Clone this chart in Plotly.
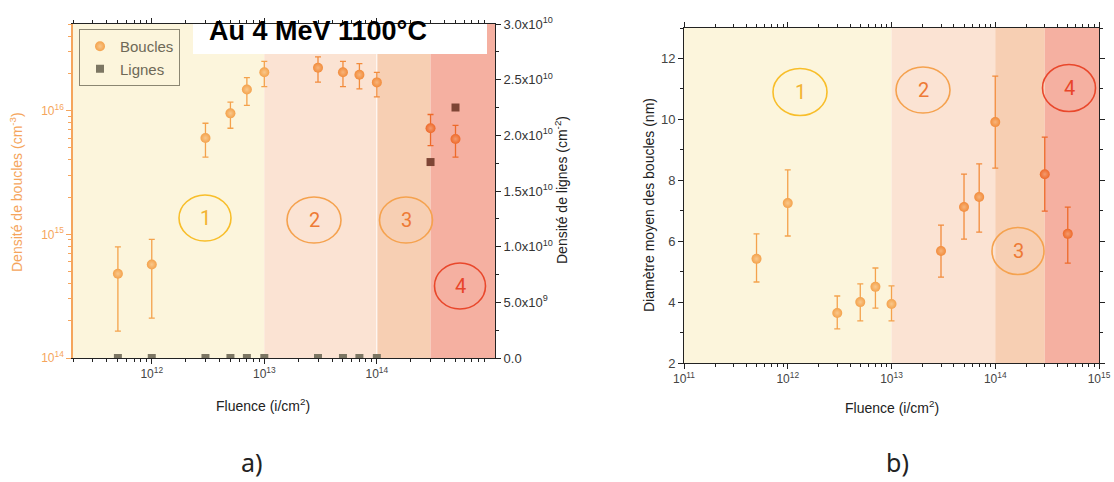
import plotly.graph_objects as go

W, H = 1114, 482

# ---------------- Panel a) data ----------------
fluence_a = [5e11, 1e12, 3e12, 5e12, 7e12, 1e13, 3e13, 5e13, 7e13, 1e14, 3e14, 5e14]
boucles_density = [4.8e14, 5.7e14, 6.0e15, 9.5e15, 1.48e16, 2.04e16, 2.22e16, 2.04e16, 1.95e16, 1.69e16, 7.2e15, 5.9e15]
boucles_high = [7.9e14, 9.1e14, 7.9e15, 1.17e16, 1.85e16, 2.5e16, 2.72e16, 2.5e16, 2.4e16, 2.04e16, 9.3e15, 7.6e15]
boucles_low = [1.65e14, 2.1e14, 4.2e15, 7.2e15, 1.1e16, 1.56e16, 1.7e16, 1.56e16, 1.5e16, 1.29e16, 5.2e15, 4.2e15]

fluence_lignes = [5e11, 1e12, 3e12, 5e12, 7e12, 1e13, 3e13, 5e13, 7e13, 1e14, 3e14, 5e14]
lignes_density = [0, 0, 0, 0, 0, 0, 0, 0, 0, 0, 1.76e10, 2.25e10]

# ---------------- Panel b) data ----------------
fluence_b = [5e11, 1e12, 3e12, 5e12, 7e12, 1e13, 3e13, 5e13, 7e13, 1e14, 3e14, 5e14]
diametre = [5.42, 7.25, 3.64, 4.0, 4.5, 3.94, 5.68, 7.12, 7.45, 9.91, 8.2, 6.24]
diametre_high = [6.24, 8.34, 4.2, 4.6, 5.12, 4.53, 6.53, 8.2, 8.54, 11.42, 9.42, 7.12]
diametre_low = [4.66, 6.17, 3.12, 3.38, 3.8, 3.38, 4.82, 6.07, 6.3, 8.4, 6.99, 5.28]

# zone limits (fluence) and labels
zone_edges = [1e13, 1e14, 3e14]
zone_labels = ["1", "2", "3", "4"]

ZONE_COLORS = ["#FCF5DC", "#FBE3D3", "#F7CFB3", "#F5B0A1"]
CIRCLE_COLORS = ["#F8BE2A", "#F5A24E", "#F5A24E", "#E9472B"]
TEXT_COLORS = ["#F2B332", "#EE7A35", "#EE7A35", "#E8452A"]
PT_LIGHT, PT_MID, PT_DARK = "#F4A24C", "#F28C3C", "#EE6A2A"
ORANGE_AX = "#F5A55C"
FONT = "Liberation Sans"


def px(x):
    return x / W


def py(y):
    return 1 - y / H


def group_of(f):
    if f <= 1e13:
        return 0
    if f <= 1e14:
        return 1
    return 2


GROUP_COLORS = [PT_LIGHT, PT_MID, PT_DARK]
GROUP_CENTERS = ["#F9C88C", "#F7B47A", "#F49A6E"]

fig = go.Figure()


def add_points(xs, ys, hi, lo, xaxis, yaxis, legend_first):
    for g in range(3):
        idx = [i for i, f in enumerate(xs) if group_of(f) == g]
        if not idx:
            continue
        fig.add_trace(go.Scatter(
            x=[xs[i] for i in idx], y=[ys[i] for i in idx],
            mode="markers",
            name="Boucles",
            showlegend=(legend_first and g == 0),
            xaxis=xaxis, yaxis=yaxis,
            marker=dict(size=10, color=GROUP_COLORS[g], line=dict(width=0),
                        gradient=dict(type="radial", color=GROUP_CENTERS[g])),
            error_y=dict(type="data", symmetric=False,
                         array=[hi[i] - ys[i] for i in idx],
                         arrayminus=[ys[i] - lo[i] for i in idx],
                         color=GROUP_COLORS[g], thickness=1.3, width=3),
        ))


add_points(fluence_a, boucles_density, boucles_high, boucles_low, "x", "y", True)

fig.add_trace(go.Scatter(
    x=fluence_lignes, y=lignes_density, mode="markers", name="Lignes",
    xaxis="x", yaxis="y2",
    marker=dict(symbol="square", size=8,
                color=["#7C7663" if v == 0 else "#7E4535" for v in lignes_density],
                line=dict(width=0)),
))

add_points(fluence_b, diametre, diametre_high, diametre_low, "x2", "y3", False)

# ---------------- shapes ----------------
shapes = []
xa_rng = (11.3, 15.05)
xb_rng = (11.0, 15.0)
for (xr, yref_dom, xref) in [(xa_rng, "y domain", "x"), (xb_rng, "y3 domain", "x2")]:
    bounds = [10 ** xr[0]] + zone_edges + [10 ** xr[1]]
    for k in range(4):
        shapes.append(dict(type="rect", xref=xref, yref=yref_dom,
                           x0=bounds[k], x1=bounds[k + 1], y0=0, y1=1,
                           fillcolor=ZONE_COLORS[k], line=dict(width=0), layer="below"))

# white separator on panel a
shapes.append(dict(type="line", xref="x", yref="y domain", x0=1e14, x1=1e14, y0=0, y1=0.91,
                   line=dict(color="white", width=1), layer="below"))
# white title box on panel a
shapes.append(dict(type="rect", xref="x domain", yref="y domain",
                   x0=(193 - 73) / 422, x1=(487 - 73) / 422, y0=(358 - 54) / 334, y1=1,
                   fillcolor="white", line=dict(width=0), layer="below"))

annotations = []


def circled(cx, cy, w, h, k):
    shapes.append(dict(type="circle", xref="paper", yref="paper",
                       x0=px(cx - w / 2), x1=px(cx + w / 2), y0=py(cy + h / 2), y1=py(cy - h / 2),
                       line=dict(color=CIRCLE_COLORS[k], width=1.6), layer="above"))
    annotations.append(dict(xref="paper", yref="paper", x=px(cx), y=py(cy), text=zone_labels[k],
                            showarrow=False, xanchor="center", yanchor="middle",
                            font=dict(family="Roboto", size=20, color=TEXT_COLORS[k])))


# panel a circles
circled(205, 218, 52, 46, 0)
circled(314, 220, 54, 46, 1)
circled(406, 220, 53, 46, 2)
circled(460, 286, 51, 46, 3)
# panel b circles
circled(800, 92, 54, 47, 0)
circled(923, 90, 54, 46, 1)
circled(1018, 251, 52, 47, 2)
circled(1069, 88, 53, 47, 3)

# title
annotations.append(dict(xref="paper", yref="paper", x=px(318), y=py(31), text="<b>Au 4 MeV 1100°C</b>",
                        showarrow=False, xanchor="center", yanchor="middle",
                        font=dict(family=FONT, size=27, color="black")))

# axis titles
annotations += [
    dict(xref="paper", yref="paper", x=px(16), y=py(192), text="Densité de boucles (cm<sup>-3</sup>)",
         textangle=-90, showarrow=False, xanchor="center", yanchor="middle",
         font=dict(family=FONT, size=14, color=ORANGE_AX)),
    dict(xref="paper", yref="paper", x=px(561), y=py(190), text="Densité de lignes (cm<sup>-2</sup>)",
         textangle=-90, showarrow=False, xanchor="center", yanchor="middle",
         font=dict(family=FONT, size=14, color="#222")),
    dict(xref="paper", yref="paper", x=px(263), y=py(405), text="Fluence (i/cm<sup>2</sup>)",
         showarrow=False, xanchor="center", yanchor="middle",
         font=dict(family=FONT, size=14, color="#222")),
    dict(xref="paper", yref="paper", x=px(649), y=py(205), text="Diamètre moyen des boucles (nm)",
         textangle=-90, showarrow=False, xanchor="center", yanchor="middle",
         font=dict(family=FONT, size=14, color="#222")),
    dict(xref="paper", yref="paper", x=px(892), y=py(407), text="Fluence (i/cm<sup>2</sup>)",
         showarrow=False, xanchor="center", yanchor="middle",
         font=dict(family=FONT, size=14, color="#222")),
    dict(xref="paper", yref="paper", x=px(252), y=py(462), text="a)",
         showarrow=False, xanchor="center", yanchor="middle",
         font=dict(family="Noto Sans", size=25, color="#222")),
    dict(xref="paper", yref="paper", x=px(897), y=py(462), text="b)",
         showarrow=False, xanchor="center", yanchor="middle",
         font=dict(family="Noto Sans", size=25, color="#222")),
]

log_minor_a = [m * 10 ** e for e in range(11, 15) for m in range(2, 10)]
log_minor_y = [m * 10 ** e for e in range(14, 17) for m in range(2, 10)]


def sup10(e):
    return "10<sup>%d</sup>" % e


tickfont = dict(family=FONT, size=12, color="#444")

fig.update_layout(
    width=W, height=H,
    margin=dict(l=0, r=0, t=0, b=0, autoexpand=False),
    paper_bgcolor="white", plot_bgcolor="rgba(0,0,0,0)",
    showlegend=True,
    legend=dict(x=px(79), y=py(29), xanchor="left", yanchor="top",
                bgcolor="rgba(0,0,0,0)", bordercolor="#8B8672", borderwidth=1,
                font=dict(family=FONT, size=15, color="#6E6957"),
                tracegroupgap=0, itemwidth=30),
    xaxis=dict(type="log", domain=[px(73), px(495)], range=list(xa_rng), anchor="y", automargin=False,
               tickvals=[1e12, 1e13, 1e14], ticktext=[sup10(12), sup10(13), sup10(14)],
               ticks="outside", ticklen=5, tickcolor="#222", showgrid=False, zeroline=False,
               showline=True, linecolor="#222", linewidth=1, mirror="ticks",
               minor=dict(tickvals=log_minor_a, ticks="outside", ticklen=3, tickcolor="#222"),
               tickfont=tickfont),
    yaxis=dict(type="log", domain=[py(358), py(24)], range=[14, 16.7], anchor="x", automargin=False,
               tickvals=[1e14, 1e15, 1e16], ticktext=[sup10(14), sup10(15), sup10(16)],
               ticks="outside", ticklen=5, tickcolor=ORANGE_AX, showgrid=False, zeroline=False,
               showline=True, linecolor=ORANGE_AX, linewidth=1.5,
               minor=dict(tickvals=log_minor_y, ticks="outside", ticklen=3, tickcolor=ORANGE_AX),
               tickfont=dict(family=FONT, size=12, color=ORANGE_AX)),
    yaxis2=dict(overlaying="y", side="right", anchor="x", range=[0, 3e10], automargin=False,
                tickvals=[0, 5e9, 1e10, 1.5e10, 2e10, 2.5e10, 3e10],
                ticktext=["0.0", "5.0x10<sup>9</sup>", "1.0x10<sup>10</sup>", "1.5x10<sup>10</sup>",
                          "2.0x10<sup>10</sup>", "2.5x10<sup>10</sup>", "3.0x10<sup>10</sup>"],
                ticks="outside", ticklen=5, tickcolor="#222", showgrid=False, zeroline=False,
                showline=True, linecolor="#222", linewidth=1,
                minor=dict(tickvals=[2.5e9, 7.5e9, 1.25e10, 1.75e10, 2.25e10, 2.75e10],
                           ticks="outside", ticklen=3, tickcolor="#222"),
                tickfont=dict(family=FONT, size=13, color="#333")),
    xaxis2=dict(type="log", domain=[px(684), px(1099)], range=list(xb_rng), anchor="y3", automargin=False,
                tickvals=[1e11, 1e12, 1e13, 1e14, 1e15],
                ticktext=[sup10(11), sup10(12), sup10(13), sup10(14), sup10(15)],
                ticks="outside", ticklen=5, tickcolor="#222", showgrid=False, zeroline=False,
                showline=True, linecolor="#222", linewidth=1, mirror="ticks",
                minor=dict(tickvals=log_minor_a, ticks="outside", ticklen=3, tickcolor="#222"),
                tickfont=tickfont),
    yaxis3=dict(domain=[py(363), py(28)], range=[2, 13], anchor="x2", automargin=False,
                tickvals=[2, 4, 6, 8, 10, 12],
                ticks="outside", ticklen=5, tickcolor="#222", showgrid=False, zeroline=False,
                showline=True, linecolor="#222", linewidth=1, mirror="ticks",
                minor=dict(tickvals=[3, 5, 7, 9, 11, 13], ticks="outside", ticklen=3, tickcolor="#222"),
                tickfont=dict(family=FONT, size=13, color="#444")),
    shapes=shapes,
    annotations=annotations,
)

fig.write_html(
    "out.html",
    config={"displayModeBar": False},
    post_script="document.body.style.margin='0';document.body.style.overflow='hidden';",
)
